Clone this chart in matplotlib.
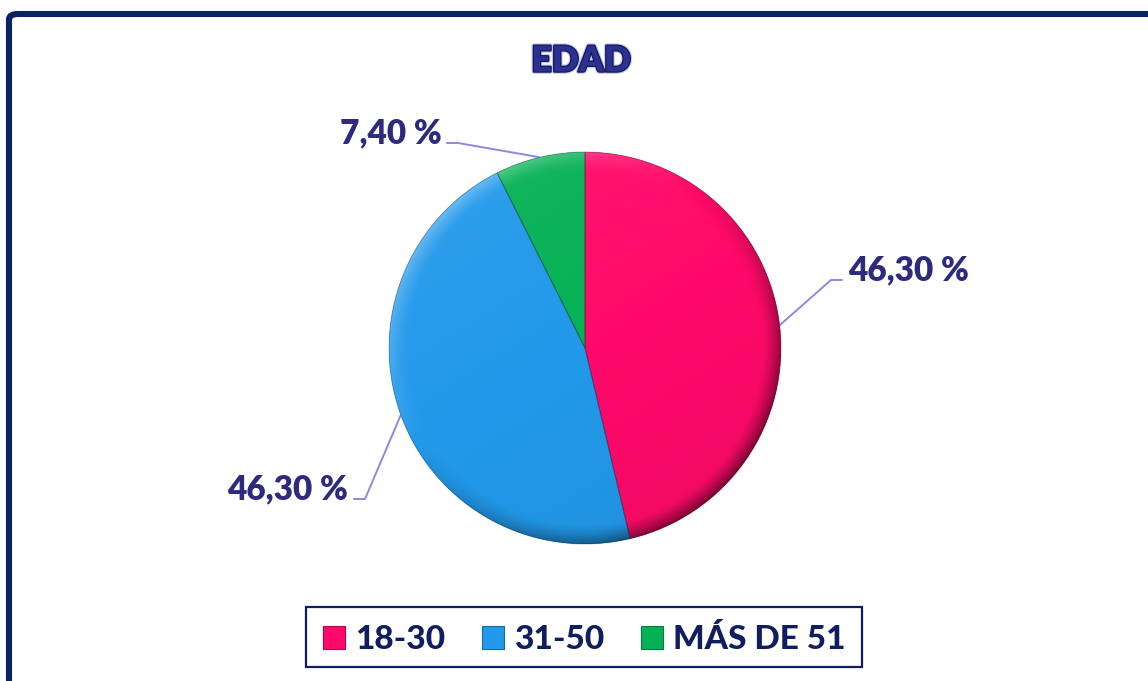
import numpy as np
import matplotlib
matplotlib.use("Agg")
import matplotlib.pyplot as plt
import matplotlib.colors as mcolors
import matplotlib.patheffects as pe
from matplotlib.patches import FancyBboxPatch, Rectangle, Patch, Wedge

# data
categories = ["18-30", "31-50", "MÁS DE 51"]
shares = [46.30, 46.30, 7.40]
colors = ["#ff0a6a", "#2299ea", "#06b155"]

TITLE = "EDAD"
NAVY = "#0f1e5e"
LABEL_COLOR = "#2e2a7e"
LEADER_COLOR = "#8e88e0"
WEIGHT = 800

# layout (pixels of the 1148x681 canvas)
W, H = 1148, 681
CX, CY, R = 585, 348, 196
# elbow point of each leader line (px) and which side the label sits on
elbows = [(831, 280, 1), (365, 499, -1), (458, 143, -1)]


def px2d(px, py):
    return (px - CX) / R, (CY - py) / R


def shade_image(color, n=500):
    yy, xx = np.mgrid[1:-1:n * 1j, -1:1:n * 1j]
    r = np.hypot(xx, yy)
    light = -0.25 * xx + 0.40 * yy
    rim = np.clip((r - 0.90) / 0.10, 0, 1) ** 1.5
    dirl = (-xx + yy) / np.maximum(r, 1e-6) / np.sqrt(2)
    s = 0.10 * light + rim * (0.38 * dirl - 0.10)
    base = np.array(mcolors.to_rgb(color))
    img = np.empty((n, n, 3))
    for k in range(3):
        c = base[k]
        img[..., k] = np.where(s > 0, c + (1 - c) * s, c * (1 + s))
    return np.clip(img, 0, 1)


fig = plt.figure(figsize=(W / 100, H / 100), dpi=100)
ax = fig.add_axes([0, 0, 1, 1])

wedges, _ = ax.pie(shares, colors=colors, startangle=90, counterclock=False, radius=1,
                   wedgeprops=dict(linewidth=0))
for w, c in zip(wedges, colors):
    im = ax.imshow(shade_image(c), extent=(-1, 1, -1, 1), aspect="auto", zorder=w.get_zorder() + 0.1,
                   interpolation="bilinear")
    im.set_clip_path(w)
    ax.add_patch(Wedge((0, 0), 1, w.theta1, w.theta2, fill=False, edgecolor=(0, 0, 0, 0.22),
                       linewidth=0.8, zorder=w.get_zorder() + 0.2))

# labels with leader lines
for w, v, (ex, ey, side) in zip(wedges, shares, elbows):
    mid = np.deg2rad((w.theta1 + w.theta2) / 2)
    sx, sy = np.cos(mid), np.sin(mid)
    exd, eyd = px2d(ex, ey)
    arm = exd + side * 0.06
    ax.plot([sx, exd, arm], [sy, eyd, eyd], color=LEADER_COLOR, lw=1.4, zorder=1,
            solid_capstyle="butt")
    label = f"{v:.2f}".replace(".", ",") + " %"
    ax.text(arm + side * 0.025, eyd, label, ha="left" if side > 0 else "right", va="baseline",
            fontsize=24, fontweight=WEIGHT, family="Lato", color=LABEL_COLOR)

x0, y0 = px2d(0, H)
x1, y1 = px2d(W, 0)
ax.set_xlim(x0, x1)
ax.set_ylim(y0, y1)
ax.set_aspect("auto")
ax.axis("off")

# title
fig.text(581 / W, 1 - 61 / H, TITLE, ha="center", va="center", fontsize=25.5, fontweight=WEIGHT,
         family="Lato", color="#2b3190",
         path_effects=[pe.Stroke(linewidth=3.4, foreground="#c5c8e6"),
                       pe.Stroke(linewidth=1.8, foreground="#161a5a"), pe.Normal()])

# legend
handles = [Patch(facecolor=c, edgecolor=mcolors.to_hex(np.array(mcolors.to_rgb(c)) * 0.7), linewidth=0.8)
           for c in colors]
fig.legend(handles, categories, loc="center", bbox_to_anchor=(584 / W, 1 - 639 / H), ncol=3,
           frameon=False, handlelength=0.66, handleheight=0.66, handletextpad=0.3,
           columnspacing=1.1, prop=dict(family="Lato", weight=900, size=24),
           labelcolor=NAVY)
fig.patches.append(Rectangle((306 / W, 1 - 667 / H), 556 / W, 60 / H, transform=fig.transFigure,
                             fill=False, edgecolor=NAVY, linewidth=1.6))

# outer frame (runs off the right and bottom edges)
fig.patches.append(FancyBboxPatch((9 / W, -0.2), 1.2, 1 - 14 / H + 0.2, transform=fig.transFigure,
                                  boxstyle="round,pad=0,rounding_size=0.008", fill=False,
                                  edgecolor="#0b2260", linewidth=4.4))

fig.savefig("out.png", dpi=100)
